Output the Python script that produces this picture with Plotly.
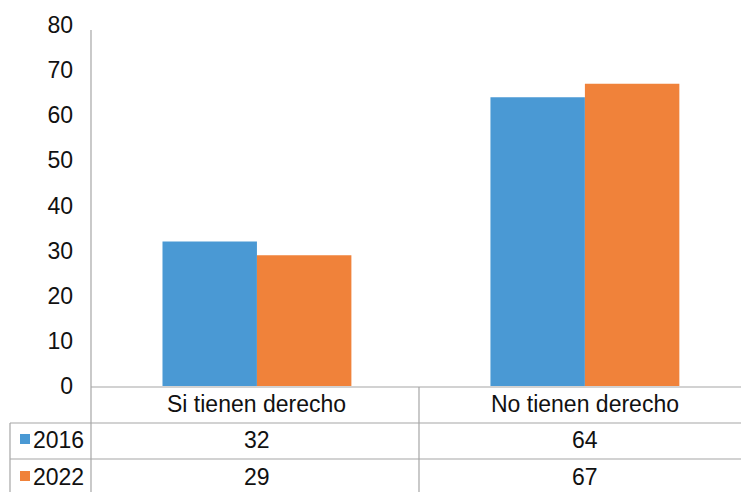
import plotly.graph_objects as go

categories = ["Si tienen derecho", "No tienen derecho"]
series_names = ["2016", "2022"]
values_2016 = [32, 64]
values_2022 = [29, 67]
y_ticks = [0, 10, 20, 30, 40, 50, 60, 70, 80]

colors = ["#4A99D4", "#F0823A"]
W, H = 741, 492
ML, MR, MT, MB = 91, 0, 25, 106
PW = W - ML - MR
PH = H - MT - MB
FONT = "Liberation Sans, Arial, sans-serif"
GRID = "#A6A6A6"
TXT = "#111111"


def px_x(X):
    return (X - ML) / PW


def px_y(Y):
    return (H - MB - Y) / PH


fig = go.Figure()
for name, vals, col in zip(series_names, [values_2016, values_2022], colors):
    fig.add_trace(go.Bar(x=categories, y=vals, name=name, marker=dict(color=col, line=dict(width=0))))

shapes = []
def line(x0, y0, x1, y1):
    shapes.append(dict(type="line", xref="paper", yref="paper",
                       x0=px_x(x0), y0=px_y(y0), x1=px_x(x1), y1=px_y(y1),
                       line=dict(color=GRID, width=1.2)))

# table grid
line(91, 387, 745, 387)
line(10, 423, 745, 423)
line(10, 459, 745, 459)
line(10, 423, 10, 495)
line(91, 30, 91, 495)
line(419, 387, 419, 495)

annotations = []
row_y = [404, 440, 477]
for i, c in enumerate(categories):
    annotations.append(dict(x=i, xref="x", y=px_y(row_y[0]), yref="paper", text=c,
                            showarrow=False, font=dict(family=FONT, size=23, color=TXT),
                            xanchor="center", yanchor="middle"))
for r, (name, vals, col) in enumerate(zip(series_names, [values_2016, values_2022], colors)):
    yc = row_y[r + 1]
    for i, v in enumerate(vals):
        annotations.append(dict(x=i, xref="x", y=px_y(yc), yref="paper", text=str(v),
                                showarrow=False, font=dict(family=FONT, size=23, color=TXT),
                                xanchor="center", yanchor="middle"))
    annotations.append(dict(x=px_x(31), xref="paper", y=px_y(yc), yref="paper", text=name,
                            showarrow=False, font=dict(family=FONT, size=23, color=TXT),
                            xanchor="left", yanchor="middle"))
    shapes.append(dict(type="rect", xref="paper", yref="paper",
                       x0=px_x(20), x1=px_x(30), y0=px_y(yc - 6), y1=px_y(yc + 4),
                       fillcolor=col, line=dict(width=0)))

fig.update_layout(
    width=W, height=H,
    margin=dict(l=ML, r=MR, t=MT, b=MB),
    paper_bgcolor="white", plot_bgcolor="white",
    barmode="group", bargap=0.424, bargroupgap=0,
    showlegend=False,
    shapes=shapes, annotations=annotations,
    xaxis=dict(range=[-0.506, 1.476], showticklabels=False, showgrid=False,
               zeroline=False, showline=False, ticks=""),
    yaxis=dict(range=[0, 80], tickvals=y_ticks, showgrid=False, zeroline=False,
               showline=False, ticks="", ticklabelstandoff=17,
               tickfont=dict(family=FONT, size=23, color=TXT)),
)

fig.write_html("out.html", config={"displayModeBar": False},
               post_script="document.body.style.margin='0';document.body.style.padding='0';")
